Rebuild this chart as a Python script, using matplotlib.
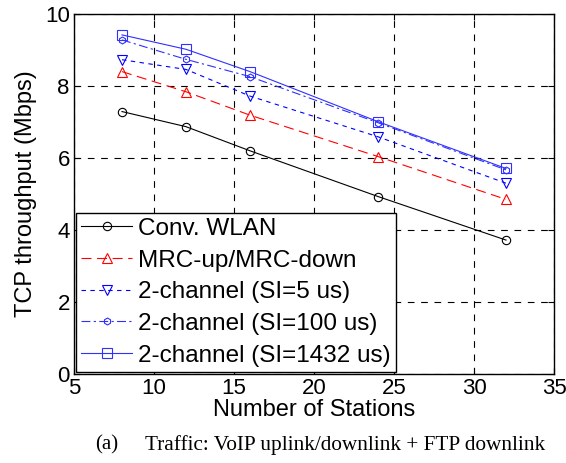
import matplotlib
matplotlib.use('Agg')
import matplotlib.pyplot as plt

# stations on x axis
stations = [8, 12, 16, 24, 32]
conv_wlan = [7.29, 6.87, 6.20, 4.93, 3.72]
mrc = [8.40, 7.84, 7.19, 6.04, 4.85]
si_5 = [8.73, 8.46, 7.72, 6.59, 5.30]
si_100 = [9.28, 8.74, 8.26, 6.98, 5.67]
si_1432 = [9.42, 9.02, 8.40, 7.01, 5.71]

labels = ['Conv. WLAN', 'MRC-up/MRC-down', '2-channel (SI=5 us)',
          '2-channel (SI=100 us)', '2-channel (SI=1432 us)']
x_ticks = [5, 10, 15, 20, 25, 30, 35]
y_ticks = [0, 2, 4, 6, 8, 10]

plt.rcParams['font.family'] = ['Liberation Sans', 'DejaVu Sans']

fig = plt.figure(figsize=(5.66, 4.63), dpi=100)
ax = fig.add_axes([74 / 566, 89 / 463, 480 / 566, 360 / 463])

ax.plot(stations, conv_wlan, color='black', lw=0.8, marker='o', ms=6,
        mfc='none', mew=0.8, label=labels[0])
ax.plot(stations, mrc, color='red', lw=0.8, dashes=(9, 5), marker='^', ms=7,
        mfc='none', mew=0.8, label=labels[1])
ax.plot(stations, si_5, color='blue', lw=0.8, dashes=(4, 4), marker='v', ms=7,
        mfc='none', mew=0.8, label=labels[2])
ax.plot(stations, si_100, color='#3030ff', lw=0.8, dashes=(8, 3, 2, 3), marker='h',
        ms=5, mfc='none', mew=0.8, label=labels[3])
ax.plot(stations, si_1432, color='#3030ff', lw=0.8, marker='s', ms=7,
        mfc='none', mew=0.8, label=labels[4])

ax.set_xlim(5, 35)
ax.set_ylim(0, 10)
ax.set_xticks(x_ticks)
ax.set_yticks(y_ticks)
ax.tick_params(direction='in', labelsize=16, top=True, right=True, length=4, pad=3)
ax.grid(True, color='black', linestyle=(0, (6, 6)), lw=0.8)
for s in ax.spines.values():
    s.set_linewidth(1.0)

ax.set_xlabel('Number of Stations', fontsize=17, labelpad=0)
ax.set_ylabel('TCP throughput (Mbps)', fontsize=17, labelpad=6)

leg = ax.legend(loc='lower left', fontsize=17.5, frameon=True, fancybox=False,
                edgecolor='black', framealpha=1, borderaxespad=0.1,
                handlelength=2.1, handletextpad=0.25, labelspacing=0.4,
                borderpad=0.2)
leg.get_frame().set_linewidth(1.0)

cap_y = 1 - 445 / 463
fig.text(95 / 566, cap_y, '(a)', ha='left', va='center', fontsize=15,
         family='Liberation Serif')
fig.text(145 / 566, cap_y, 'Traffic: VoIP uplink/downlink + FTP downlink',
         ha='left', va='center', fontsize=15.3, family='Liberation Serif')

fig.savefig('out.png', dpi=100)
